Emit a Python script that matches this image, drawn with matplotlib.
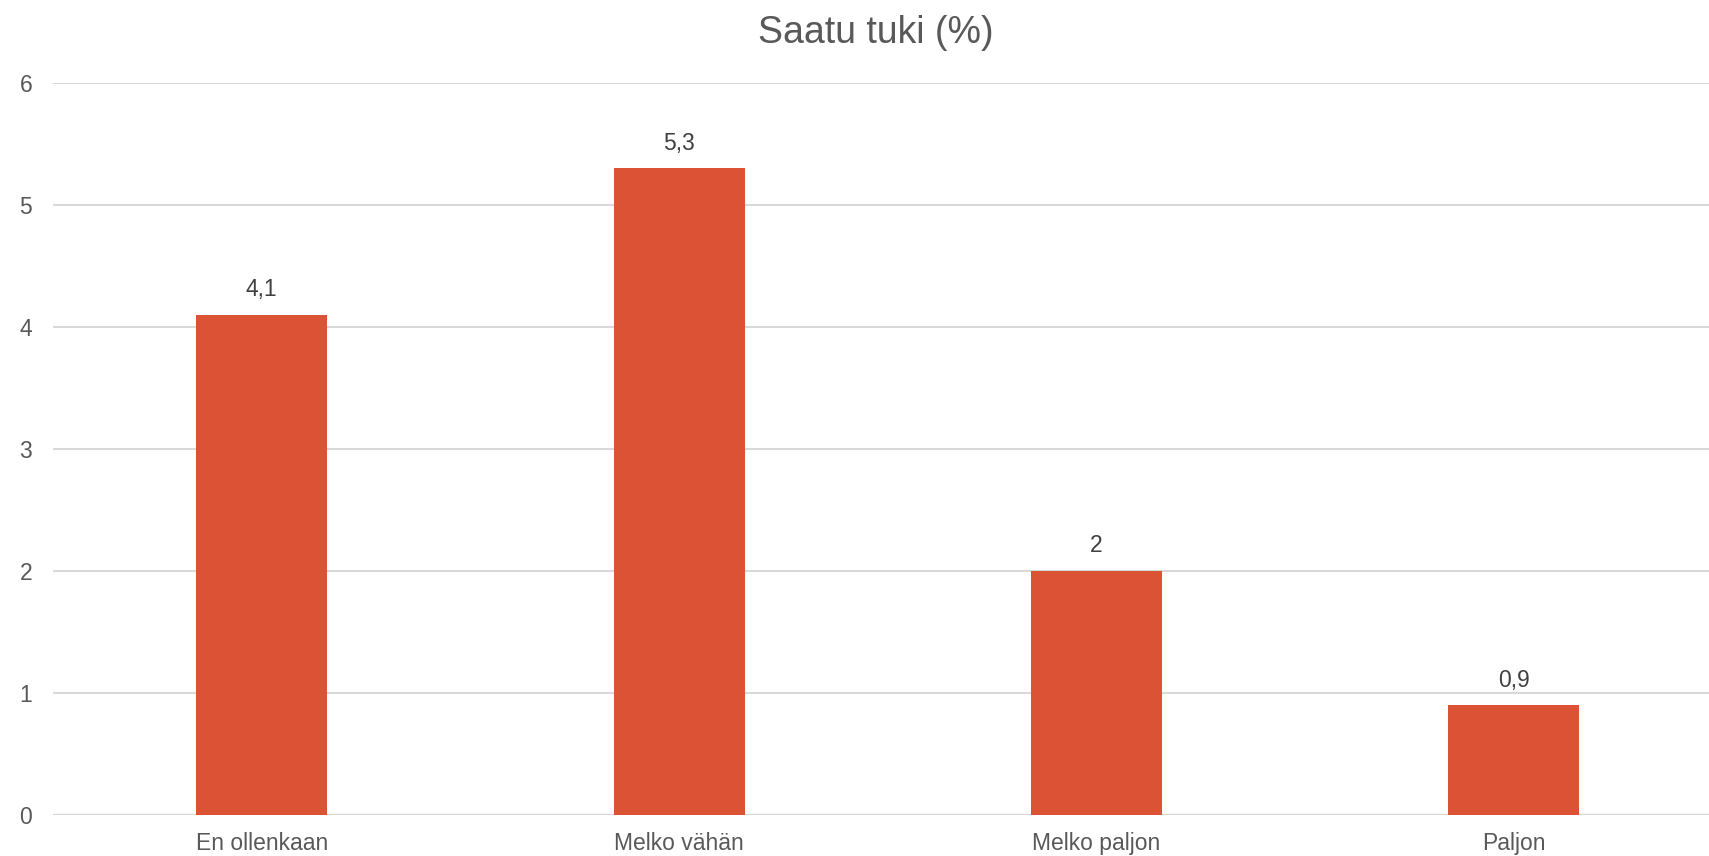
import matplotlib.pyplot as plt
import numpy as np

# データ
categories = ['En ollenkaan', 'Melko vähän', 'Melko paljon', 'Paljon']
values = [4.1, 5.3, 2.0, 0.9]
value_labels = ['4,1', '5,3', '2', '0,9']

plt.rcParams['font.family'] = ['Liberation Sans', 'DejaVu Sans']

W, H = 1709, 856
fig = plt.figure(figsize=(W / 100, H / 100), dpi=100)
ax = fig.add_axes([53 / W, 41 / H, (W - 53) / W, 732 / H])

x = np.arange(len(categories))
bars = ax.bar(x, values, width=0.314, color='#DC5234', zorder=3)

ax.set_ylim(0, 6)
slot = 417.4
ax.set_xlim(-0.5, -0.5 + (W - 53) / slot)
ax.set_yticks(range(0, 7))
ax.set_xticks(x)
ax.set_xticklabels(categories)

ax.grid(axis='y', color='#D9D9D9', linewidth=1.5, zorder=0)
ax.axhline(0, color='#D9D9D9', linewidth=2.5, zorder=2)
for s in ax.spines.values():
    s.set_visible(False)
ax.tick_params(axis='both', length=0, labelsize=16.5, labelcolor='#595959')
ax.tick_params(axis='y', pad=15)
ax.tick_params(axis='x', pad=12)

# 値ラベル
for bar, lab in zip(bars, value_labels):
    ax.annotate(lab, (bar.get_x() + bar.get_width() / 2, bar.get_height()),
                xytext=(0, 18), textcoords='offset points',
                ha='center', va='center', fontsize=16.5, color='#404040')

fig.text(876 / W, 1 - 33 / H, 'Saatu tuki (%)', ha='center', va='center',
         fontsize=27, color='#595959')

fig.savefig('out.png', dpi=100)
